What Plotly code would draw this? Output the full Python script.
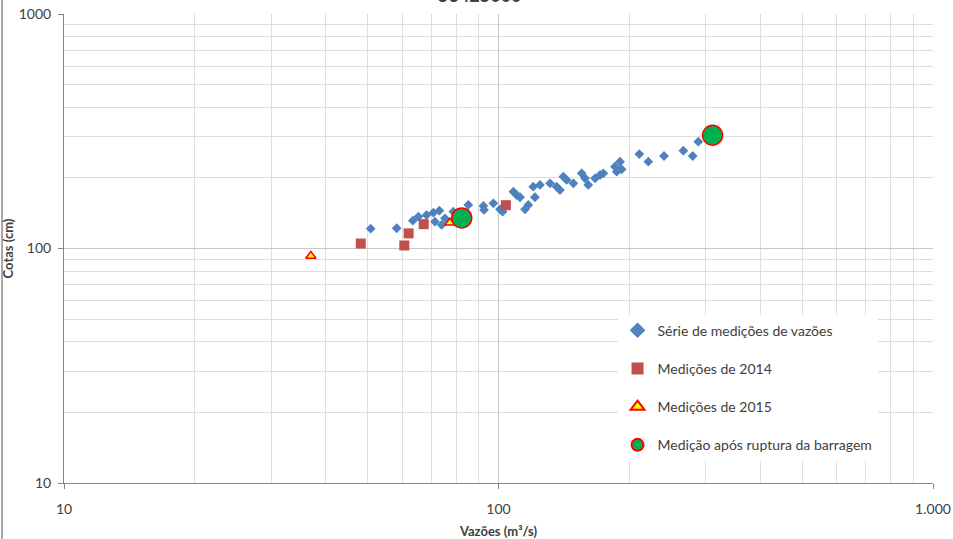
import plotly.graph_objects as go

# Série de medições de vazões (vazão m3/s, cota cm)
serie_q = [50.8, 58.3, 63.5, 65.4, 68.3, 70.8, 73.1, 71.4, 74.0, 75.3, 78.7, 85.2, 92.3, 92.6,
           97.3, 100.8, 102.2, 108.2, 110.1, 112.1, 117.1, 115.1, 121.3, 120.2, 124.6, 131.4,
           136.1, 138.5, 141.0, 143.5, 148.7, 155.4, 158.2, 160.9, 166.8, 171.3, 174.3, 185.4,
           187.1, 190.4, 192.1, 210.9, 221.2, 240.4, 266.3, 279.9, 288.3]
serie_h = [121.5, 122.0, 131.4, 136.6, 138.9, 142.1, 145.0, 130.1, 126.0, 134.5, 143.6, 153.3,
           151.8, 146.0, 155.9, 147.0, 143.6, 174.7, 169.1, 165.4, 153.3, 147.0, 165.4, 183.4,
           186.6, 189.7, 183.4, 177.6, 202.4, 196.0, 189.7, 209.3, 199.3, 186.6, 199.3, 205.8,
           209.3, 223.3, 212.6, 234.5, 217.6, 252.9, 234.5, 248.0, 261.3, 248.0, 285.3]

m2014_q = [48.2, 60.7, 62.1, 67.3, 104.0]
m2014_h = [105.0, 103.0, 116.0, 127.0, 153.0]

m2015_q = [37.0, 77.3]
m2015_h = [92.9, 128.8]

ruptura_q = [82.3, 311.0]
ruptura_h = [135.0, 304.0]

major_vals = [10, 100, 1000]
x_ticktext = ["10", "100", "1.000"]
y_ticktext = ["10", "100", "1000"]
minor_vals = [20, 30, 40, 50, 60, 70, 80, 90, 200, 300, 400, 500, 600, 700, 800, 900]

FONT = "Lato"

fig = go.Figure()
fig.add_trace(go.Scatter(x=serie_q, y=serie_h, mode="markers", name="Série de medições de vazões",
                         legendgroup="a",
                         marker=dict(symbol="diamond", size=7.5, color="#4F81BD")))
fig.add_trace(go.Scatter(x=m2014_q, y=m2014_h, mode="markers", name="Medições de 2014",
                         legendgroup="b",
                         marker=dict(symbol="square", size=10, color="#C0504D")))
fig.add_trace(go.Scatter(x=m2015_q, y=m2015_h, mode="markers", name="Medições de 2015",
                         legendgroup="c",
                         marker=dict(symbol="triangle-up", size=9, color="#FFFF00",
                                     line=dict(color="#FF0000", width=1.5))))
fig.add_trace(go.Scatter(x=ruptura_q, y=ruptura_h, mode="markers",
                         name="Medição após ruptura da barragem", legendgroup="d",
                         marker=dict(symbol="circle", size=20, color="#00B050",
                                     line=dict(color="#FF0000", width=1.5))))

axis_common = dict(
    type="log", range=[1, 3], tickvals=major_vals, automargin=False,
    showgrid=True, gridcolor="#C8C8C8", gridwidth=1,
    showline=True, linecolor="#868686", linewidth=1,
    ticks="outside", ticklen=5, tickcolor="#868686",
    tickfont=dict(family=FONT, size=14, color="#404040"),
    minor=dict(tickvals=minor_vals, showgrid=True, gridcolor="#DEDEDE", gridwidth=1, ticks=""),
    zeroline=False, mirror=False,
)

fig.update_xaxes(**axis_common, ticktext=x_ticktext, ticklabelstandoff=8,
                 title=dict(text="<b>Vazões (m³/s)</b>", font=dict(family=FONT, size=13, color="#404040"),
                            standoff=11))
fig.update_yaxes(**axis_common, ticktext=y_ticktext, ticklabelstandoff=4,
                 title=dict(text="<b>Cotas (cm)</b>", font=dict(family=FONT, size=13, color="#404040"),
                            standoff=4))

fig.update_layout(
    width=953, height=539,
    margin=dict(l=64, r=20, t=14, b=56),
    paper_bgcolor="white", plot_bgcolor="white",
    font=dict(family=FONT, color="#404040"),
    legend=dict(x=0.637, y=0.359, xanchor="left", yanchor="top",
                bgcolor="white", borderwidth=0, tracegroupgap=17,
                font=dict(family=FONT, size=14, color="#404040"),
                itemsizing="constant", itemwidth=30),
    annotations=[dict(text="<b>56425000</b>", xref="paper", yref="paper",
                      x=0.479, y=1.012, xanchor="center", yanchor="bottom",
                      showarrow=False, font=dict(family=FONT, size=18, color="#404040"))],
    shapes=[dict(type="line", xref="paper", yref="paper", x0=-0.0713, x1=-0.0713,
                 y0=-0.2, y1=1.1, line=dict(color="#8C8C8C", width=1.5))],
)

fig.write_html("out.html")
